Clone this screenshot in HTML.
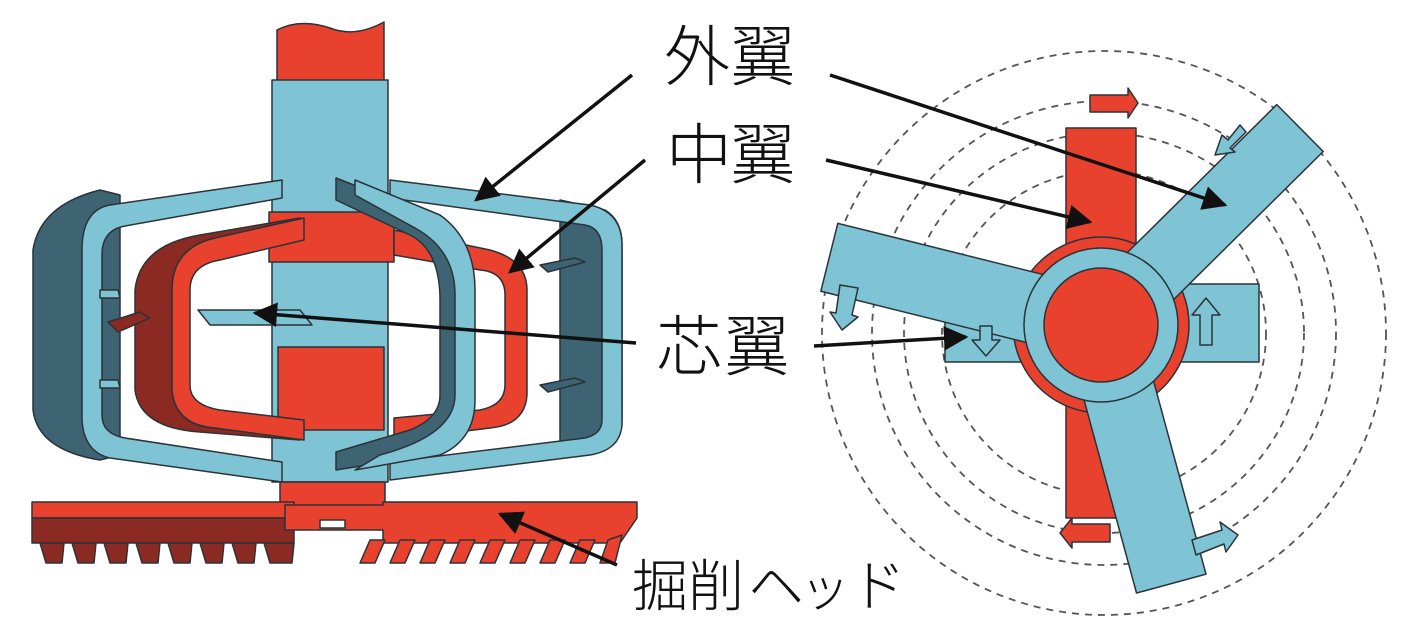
<!DOCTYPE html>
<html><head><meta charset="utf-8"><style>
html,body{margin:0;padding:0;background:#fff;}
svg{display:block}
text{font-family:"Liberation Sans","Noto Sans CJK JP",sans-serif;font-weight:300;fill:#111}
</style></head><body>
<svg width="1409" height="644" viewBox="0 0 1409 644" xmlns="http://www.w3.org/2000/svg">
<defs>
<marker id="ah" viewBox="0 0 10 10" refX="9" refY="5" markerWidth="7" markerHeight="7" orient="auto" markerUnits="strokeWidth"><path d="M0,0 L10,5 L0,10 z" fill="#111"/></marker>
</defs>
<g stroke="#2a3338" stroke-width="1.5" stroke-linejoin="round">
<path d="M277,82 L277,30 Q300,18 330,28 Q355,38 384,22 L384,82 Z" fill="#e8412e"/>
<path d="M100,190 Q40,205 33,250 L33,410 Q38,450 100,460 L120,455 L120,195 Z" fill="#3e6474"/>
<path d="M560,200 L605,210 Q622,220 622,245 L622,420 Q620,445 600,450 L560,455 Z" fill="#3e6474"/>
<path d="M390,180 L590,205 Q622,212 622,245 L622,425 Q620,450 590,455 L390,480 L390,462 L585,438 Q602,434 602,420 L602,250 Q602,228 585,225 L390,198 Z" fill="#7ec4d4"/>
<rect x="272" y="80" width="116" height="402" fill="#7ec4d4"/>
<rect x="269" y="212" width="125" height="50" fill="#e8412e"/>
<rect x="278" y="347" width="106" height="83" fill="#e8412e"/>
<path d="M394,230 L490,250 Q527,260 527,290 L527,395 Q525,425 490,428 L394,440 L394,418 L480,410 Q505,405 505,385 L505,295 Q505,272 480,270 L394,255 Z" fill="#e8412e"/>
<path d="M300,218 L200,235 Q140,245 135,290 L135,390 Q140,428 200,432 L300,440 L300,420 L200,412 Q172,408 172,385 L172,290 Q172,262 200,258 L300,240 Z" fill="#8b2a22"/>
<path d="M304,218 L215,238 Q172,248 172,290 L172,390 Q175,425 215,428 L304,440 L304,420 L220,410 Q190,405 190,385 L190,290 Q190,265 220,260 L304,240 Z" fill="#e8412e"/>
<path d="M282,180 L110,205 Q82,210 82,250 L82,420 Q84,452 110,458 L282,482 L282,462 L125,438 Q102,434 102,415 L102,255 Q102,230 125,226 L282,198 Z" fill="#7ec4d4"/>
<path d="M198,310 L300,310 L312,325 L210,325 Z" fill="#7ec4d4"/>
<path d="M108,322 L140,312 L150,318 L118,332 Z" fill="#8b2a22"/>
<path d="M540,265 L575,258 L585,262 L548,272 Z" fill="#3e6474"/>
<path d="M540,385 L575,378 L585,382 L548,392 Z" fill="#3e6474"/>
<path d="M100,290 L118,290 L120,298 L100,298 Z" fill="#7ec4d4"/>
<path d="M100,380 L118,380 L120,388 L100,388 Z" fill="#7ec4d4"/>
<path d="M336,178 L430,215 Q472,240 472,290 L472,400 Q472,440 430,455 L336,470 L336,452 L410,430 Q440,418 440,395 L440,300 Q440,250 410,235 L336,200 Z" fill="#3e6474"/>
<path d="M355,180 L440,215 Q475,240 475,290 L475,400 Q475,440 440,455 L355,470 L380,455 Q455,435 455,395 L455,295 Q455,250 415,228 L355,195 Z" fill="#7ec4d4"/>
<rect x="280" y="482" width="105" height="25" fill="#e8412e"/>
<rect x="32" y="502" width="262" height="16" fill="#e8412e"/>
<path d="M32,518 L294,518 L294,543 L32,543 Z" fill="#8b2a22"/>
<path d="M285,505 L383,505 L383,502 L637,502 L637,518 L620,543 L383,543 L383,530 L285,530 Z" fill="#e8412e"/>
<rect x="320" y="520" width="25" height="8" fill="#fff"/>
<g fill="#8b2a22">
<path d="M40,543 L64,543 L62,563 L46,563 Z"/><path d="M72,543 L96,543 L94,563 L78,563 Z"/><path d="M104,543 L128,543 L126,563 L110,563 Z"/><path d="M136,543 L160,543 L158,563 L142,563 Z"/><path d="M168,543 L192,543 L190,563 L174,563 Z"/><path d="M200,543 L224,543 L222,563 L206,563 Z"/><path d="M232,543 L256,543 L254,563 L238,563 Z"/><path d="M264,543 L294,543 L292,563 L270,563 Z"/>
</g>
<g fill="#e8412e">
<path d="M370,540 L385,540 L375,563 L360,563 Z"/><path d="M400,540 L415,540 L405,563 L390,563 Z"/><path d="M430,540 L445,540 L435,563 L420,563 Z"/><path d="M460,540 L475,540 L465,563 L450,563 Z"/><path d="M490,540 L505,540 L495,563 L480,563 Z"/><path d="M520,540 L535,540 L525,563 L510,563 Z"/><path d="M550,540 L565,540 L555,563 L540,563 Z"/><path d="M580,540 L595,540 L585,563 L570,563 Z"/><path d="M608,540 L622,535 L615,563 L600,563 Z"/>
</g>
</g>

<g fill="none" stroke="#555" stroke-width="1.8" stroke-dasharray="7,6">
<circle cx="1104" cy="333" r="282"/>
<circle cx="1104" cy="333" r="232"/>
<circle cx="1104" cy="333" r="200"/>
<circle cx="1104" cy="333" r="162"/>
</g>
<g stroke="#2a3338" stroke-width="1.5" stroke-linejoin="round">
<rect x="945" y="284" width="314" height="78" fill="#7ec4d4"/>
<rect x="1066" y="128" width="70" height="390" fill="#e8412e"/>
<path d="M1090,95 L1128,95 L1128,88 L1138,103 L1128,118 L1128,112 L1090,112 Z" fill="#e8412e"/>
<path d="M1110,524 L1072,524 L1072,518 L1060,533 L1072,548 L1072,542 L1110,542 Z" fill="#e8412e"/>
<circle cx="1101" cy="325" r="88" fill="#e8412e"/>
<g fill="#7ec4d4">
<g transform="translate(1101,325) rotate(-44.7)"><rect x="0" y="-33" width="280" height="66"/></g>
<g transform="translate(1101,325) rotate(194)"><rect x="0" y="-35" width="280" height="70"/></g>
<g transform="translate(1101,325) rotate(74.8)"><rect x="0" y="-36" width="268" height="72"/></g>
</g>
<circle cx="1101" cy="325" r="77" fill="#7ec4d4"/>
<circle cx="1101" cy="325" r="57" fill="#e8412e"/>
<path d="M1200,345 L1200,315 L1192,315 L1206,298 L1220,315 L1212,315 L1212,345 Z" fill="#7ec4d4"/>
<path d="M980,326 L980,340 L972,340 L986,356 L1000,340 L992,340 L992,326 Z" fill="#7ec4d4"/>
<path d="M840,285 L858,288 L852,315 L858,317 L842,330 L830,312 L836,313 Z" fill="#7ec4d4"/>
<path d="M1240,125 L1228,140 L1222,135 L1215,155 L1235,152 L1230,148 L1246,132 Z" fill="#7ec4d4"/>
<path d="M1192,540 L1222,530 L1220,522 L1238,535 L1226,552 L1224,544 L1196,555 Z" fill="#7ec4d4"/>
</g>

<g stroke="#111" stroke-width="3.5" fill="none" marker-end="url(#ah)">
<line x1="632" y1="75" x2="476" y2="200"/>
<line x1="830" y1="75" x2="1225" y2="205"/>
<line x1="645" y1="160" x2="510" y2="272"/>
<line x1="826" y1="160" x2="1090" y2="222"/>
<line x1="636" y1="343" x2="255" y2="313"/>
<line x1="814" y1="346" x2="966" y2="337"/>
<line x1="617" y1="565" x2="500" y2="514"/>
</g>

<text x="664" y="80" font-size="66">外</text><text x="730" y="80" font-size="66">翼</text>
<text x="666" y="178" font-size="66">中</text><text x="730" y="178" font-size="66">翼</text>
<text x="656" y="370" font-size="66">芯</text><text x="724" y="370" font-size="66">翼</text>
<text x="632" y="606" font-size="56">掘削</text>
<text x="748" y="606" font-size="56">ヘ</text><text x="800" y="606" font-size="50">ッ</text><text x="850" y="606" font-size="56">ド</text>
</svg>
</body></html>
